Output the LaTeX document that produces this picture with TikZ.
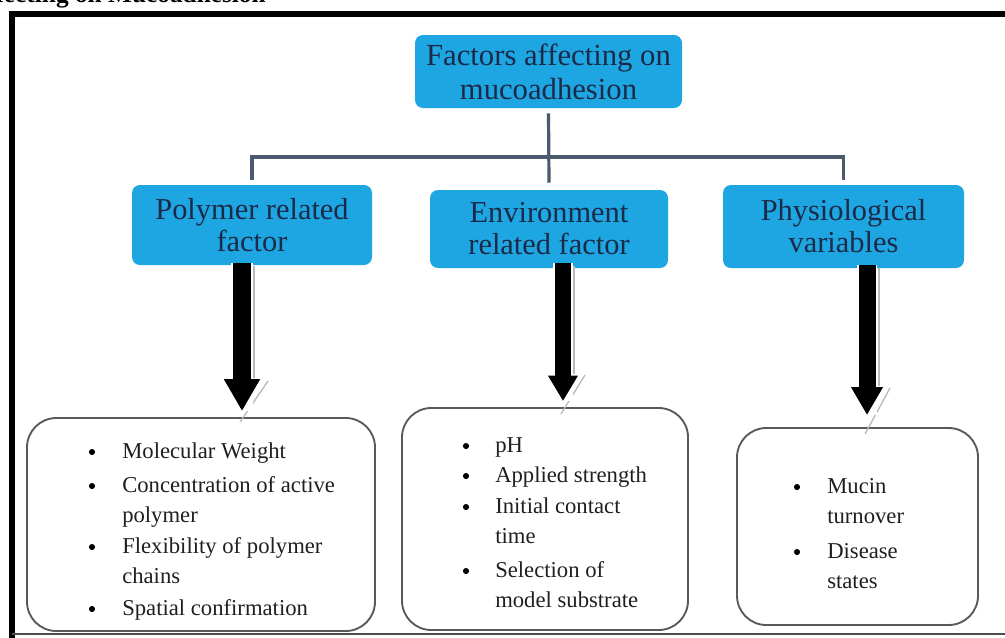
\documentclass[tikz,border=0pt]{standalone}
\usepackage{fontspec}
\setmainfont{Liberation Serif}
\usetikzlibrary{arrows.meta,calc}
\definecolor{boxblue}{HTML}{1DA6E1}
\definecolor{boxtext}{HTML}{1B2A48}
\definecolor{connc}{HTML}{4B5A6E}
\begin{document}
\begin{tikzpicture}[x=0.75pt,y=-0.75pt,
  bluebox/.style={rectangle, rounded corners=6pt, fill=boxblue, text=boxtext,
    align=center, inner sep=0pt},
  topfont/.style={font=\fontsize{23}{25.5}\selectfont},
  midfont/.style={font=\fontsize{22.8}{24}\selectfont},
  listbox/.style={rectangle, draw=black!65, line width=1.4pt, rounded corners=22pt, inner sep=0pt},
  item/.style={font=\fontsize{17}{20}\selectfont, text=black!88, inner sep=0pt},
  bul/.style={circle, fill=black, inner sep=0pt, minimum size=4.6pt},
  conn/.style={draw=connc, line width=2.4pt},
  bigarrow/.style={draw=black, line width=#1},
  shadowline/.style={draw=gray!55, line width=1pt}
]
\useasboundingbox (0,0) rectangle (1005,637);
\clip (0,0) rectangle (1005,637);

% clipped heading
\node[font=\fontsize{19}{19}\selectfont\bfseries, anchor=base east, inner sep=0pt] (hd) at (266,2) {Factors Affecting on Mucoadhesion};

% outer frame
\draw[black, line width=4.5pt] (11.5,640) -- (11.5,13.5) -- (1010,13.5);
\draw[black!70, line width=1.5pt] (11.5,634) -- (1010,634);

% blue boxes
\node[bluebox, topfont, minimum width=200.25pt, minimum height=54.75pt] (t) at (548.5,71.5) {Factors affecting on\\mucoadhesion};
\node[bluebox, midfont, minimum width=180pt, minimum height=60pt] (p1) at (252,225) {Polymer related\\factor};
\node[bluebox, midfont, minimum width=178.5pt, minimum height=58.5pt] (p2) at (549,229) {Environment\\related factor};
\node[bluebox, midfont, minimum width=180.75pt, minimum height=62.25pt] (p3) at (843.5,226.5) {Physiological\\variables};

% tree connectors
\coordinate (j) at (549,157);
\draw[conn] ($(t.south)+(0,5)$) -- ($(p2.north)+(0,-7)$);
\draw[conn] ($(p1.north)+(0,-5)$) |- (j) -| ($(p3.north)+(0,-5)$);

% list boxes
\node[listbox, minimum width=261pt, minimum height=159.75pt] (b1) at (201,524.5) {};
\node[listbox, minimum width=214.5pt, minimum height=166.5pt] (b2) at (545,519) {};
\node[listbox, minimum width=180.75pt, minimum height=147.75pt] (b3) at (857.5,526.5) {};

% list A
\foreach \yy/\bb/\tt [count=\i] in {458/1/Molecular Weight, 492/1/Concentration of active, 522/0/polymer, 553/1/Flexibility of polymer, 583/0/chains, 615/1/Spatial confirmation}{
  \node[item, anchor=base west] (la\i) at (122,\yy) {\tt};
  \ifnum\bb=1 \node[bul] (ba\i) at (92,\yy-6) {}; \fi
}
% list B
\foreach \yy/\bb/\tt [count=\i] in {452/1/pH, 482/1/Applied strength, 513/1/Initial contact, 543/0/time, 577/1/Selection of, 607/0/model substrate}{
  \node[item, anchor=base west] (lb\i) at (495,\yy) {\tt};
  \ifnum\bb=1 \node[bul] (bb\i) at (466,\yy-6) {}; \fi
}
% list C
\foreach \yy/\bb/\tt [count=\i] in {493/1/Mucin, 523/0/turnover, 558/1/Disease, 588/0/states}{
  \node[item, anchor=base west] (lc\i) at (827,\yy) {\tt};
  \ifnum\bb=1 \node[bul] (bc\i) at (797,\yy-6) {}; \fi
}

% arrow shadows
\draw[shadowline] (254,266) -- (254,378);
\draw[shadowline] (268,381) -- (240,422);
\draw[shadowline] (574,266) -- (574,374);
\draw[shadowline] (585,375) -- (561,414);
\draw[shadowline] (879,268) -- (879,386);
\draw[shadowline] (890,388) -- (865,434);

% big arrows
\coordinate (a1s) at (242,263);
\coordinate (a2s) at (563,263);
\coordinate (a3s) at (867,265);
\draw[bigarrow=13.5pt, -{Triangle[width=25.5pt,length=24pt]}, shorten >=4.5pt,
  preaction={draw=white, line width=16pt, -}] (a1s) -- (a1s |- b1.north);
\draw[bigarrow=12pt, -{Triangle[width=21pt,length=19pt]}, shorten >=4.5pt,
  preaction={draw=white, line width=14.5pt, -}] (a2s) -- (a2s |- b2.north);
\draw[bigarrow=12.75pt, -{Triangle[width=22.5pt,length=21pt]}, shorten >=9pt,
  preaction={draw=white, line width=15pt, -}] (a3s) -- (a3s |- b3.north);
\end{tikzpicture}
\end{document}
